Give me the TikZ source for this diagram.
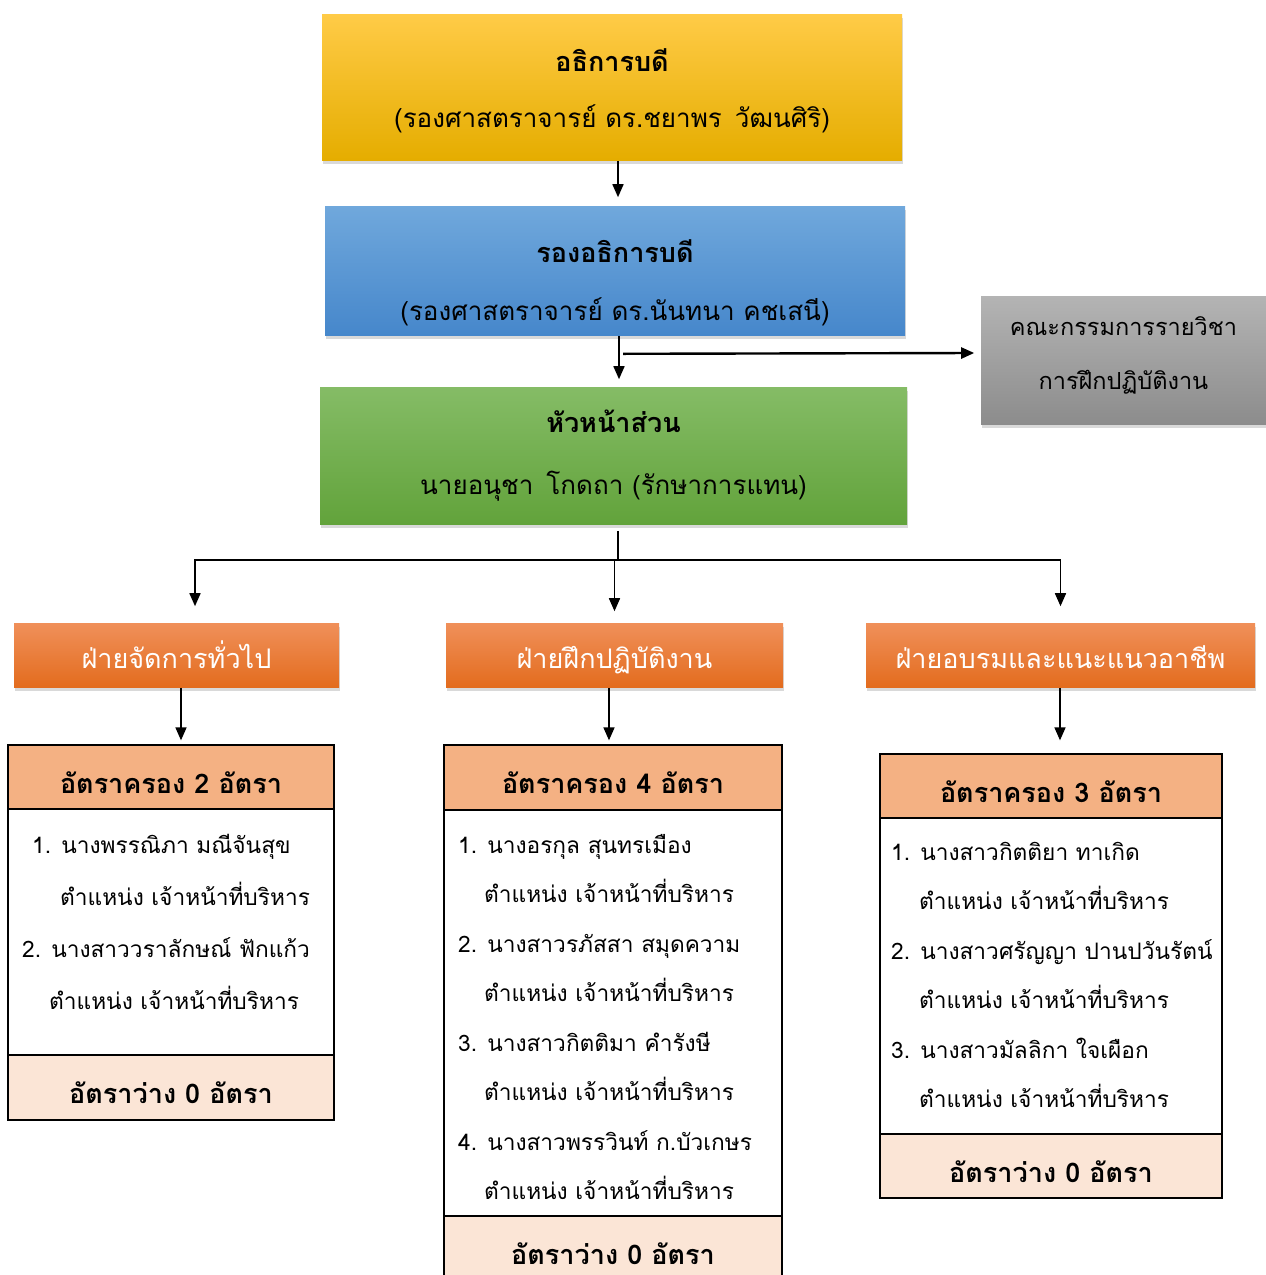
\documentclass[tikz,border=0pt]{standalone}
\usepackage{fontspec}
\newfontfamily\thaifont[Script=Thai]{Loma}
\usetikzlibrary{arrows.meta,shadows,positioning}

\definecolor{hdrfill}{HTML}{F4B183}
\definecolor{ftrfill}{HTML}{FBE5D6}
\definecolor{orgtop}{HTML}{F0905A}
\definecolor{orgmid}{HTML}{F47F2A}
\definecolor{orgbot}{HTML}{E36C1E}
\newcommand\lift[1]{\rule{0pt}{#1}}

\begin{document}
\begin{tikzpicture}[x=1pt, y=-1pt, line width=1.6pt,
  >={Triangle[length=13pt,width=11pt]},
  font=\thaifont\fontsize{26}{32}\selectfont,
  top/.style={align=center, inner sep=0pt,
    drop shadow={shadow xshift=1pt, shadow yshift=-4pt, opacity=0.3}},
  dept/.style={top, text=white, minimum height=64pt, text height=30pt, text depth=3pt,
    font=\thaifont\fontsize{27}{32}\selectfont,
    top color=orgtop, middle color=orgmid, bottom color=orgbot},
  cell/.style={draw, line width=1.3pt, inner sep=0pt, text height=32pt, text depth=0pt,
    font=\thaifont\bfseries\fontsize{27}{32}\selectfont},
  listtxt/.style={align=left, inner sep=0pt, font=\thaifont\fontsize{22.7}{#1}\selectfont}]

  \useasboundingbox (0,0) rectangle (1266,1275);

  \node[top, minimum width=580pt, minimum height=146pt,
        top color={rgb,255:red,255;green,203;blue,71}, middle color={rgb,255:red,255;green,192;blue,0},
        bottom color={rgb,255:red,229;green,173;blue,0}]  (Dir)  at (612,87)
        {\lift{30pt}\textbf{\fontsize{27}{32}\selectfont อธิการบดี}\\[24pt](รองศาสตราจารย์ ดร.ชยาพร\enspace วัฒนศิริ)};
  \node[top, minimum width=580pt, minimum height=129pt,
        top color={rgb,255:red,112;green,168;blue,220},
        bottom color={rgb,255:red,70;green,135;blue,203}]  (Vice) at (615,270.5)
        {\lift{48pt}\textbf{\fontsize{27}{32}\selectfont รองอธิการบดี}\\[26pt](รองศาสตราจารย์ ดร.นันทนา คชเสนี)};
  \node[top, minimum width=285pt, minimum height=128pt, font=\thaifont\fontsize{23.5}{32}\selectfont,
        top color={rgb,255:red,180;green,180;blue,180},
        bottom color={rgb,255:red,140;green,140;blue,140}] (Com)  at (1123.5,360)
        {คณะกรรมการรายวิชา\\[22pt]การฝึกปฏิบัติงาน\rule[-14pt]{0pt}{0pt}};
  \node[top, minimum width=587pt, minimum height=137pt,
        top color={rgb,255:red,133;green,188;blue,102},
        bottom color={rgb,255:red,98;green,163;blue,59}]   (Head) at (613.5,455.5)
        {\textbf{\fontsize{27}{32}\selectfont หัวหน้าส่วน}\\[30pt]นายอนุชา\enspace โกดถา (รักษาการแทน)};

  \node[dept, minimum width=325pt] (OL) at (176.5,655)  {ฝ่ายจัดการทั่วไป};
  \node[dept, minimum width=337pt] (OM) at (614.5,655)  {ฝ่ายฝึกปฏิบัติงาน};
  \node[dept, minimum width=389pt] (OR) at (1060.5,655) {ฝ่ายอบรมและแนะแนวอาชีพ};

  \node[cell, fill=hdrfill, minimum width=326pt, minimum height=64pt]  (LH) at (171,777)    {อัตราครอง 2 อัตรา};
  \node[cell, fill=white,   minimum width=326pt, minimum height=246pt] (LB) at (171,932)    {};
  \node[cell, fill=ftrfill, minimum width=326pt, minimum height=65pt]  (LF) at (171,1087.5) {อัตราว่าง 0 อัตรา};

  \node[cell, fill=hdrfill, minimum width=338pt, minimum height=65pt]  (MH) at (613,777.5)  {อัตราครอง 4 อัตรา};
  \node[cell, fill=white,   minimum width=338pt, minimum height=406pt] (MB) at (613,1013)   {};
  \node[cell, fill=ftrfill, minimum width=338pt, minimum height=64pt]  (MF) at (613,1248)   {อัตราว่าง 0 อัตรา};

  \node[cell, fill=hdrfill, minimum width=342pt, minimum height=64pt]  (RH) at (1051,786)   {อัตราครอง 3 อัตรา};
  \node[cell, fill=white,   minimum width=342pt, minimum height=316pt] (RB) at (1051,976)   {};
  \node[cell, fill=ftrfill, minimum width=342pt, minimum height=64pt]  (RF) at (1051,1166)  {อัตราว่าง 0 อัตรา};

  \node[listtxt=52, anchor=north west] (LT) at ([xshift=14pt,yshift=-25pt]LB.north west)
    {\hspace*{10pt}1. นางพรรณิภา มณีจันสุข\\
     \hspace*{38pt}ตำแหน่ง เจ้าหน้าที่บริหาร\\
     2. นางสาววราลักษณ์ ฟักแก้ว\\
     \hspace*{27pt}ตำแหน่ง เจ้าหน้าที่บริหาร};
  \node[listtxt=49.5, anchor=north west] (MT) at ([xshift=14pt,yshift=-24pt]MB.north west)
    {1. นางอรกุล สุนทรเมือง\\
     \hspace*{26pt}ตำแหน่ง เจ้าหน้าที่บริหาร\\
     2. นางสาวรภัสสา สมุดความ\\
     \hspace*{26pt}ตำแหน่ง เจ้าหน้าที่บริหาร\\
     3. นางสาวกิตติมา คำรังษี\\
     \hspace*{26pt}ตำแหน่ง เจ้าหน้าที่บริหาร\\
     4. นางสาวพรรวินท์ ก.บัวเกษร\\
     \hspace*{26pt}ตำแหน่ง เจ้าหน้าที่บริหาร};
  \node[listtxt=49.5, anchor=north west] (RT) at ([xshift=11pt,yshift=-24pt]RB.north west)
    {1. นางสาวกิตติยา ทาเกิด\\
     \hspace*{28pt}ตำแหน่ง เจ้าหน้าที่บริหาร\\
     2. นางสาวศรัญญา ปานปวันรัตน์\\
     \hspace*{28pt}ตำแหน่ง เจ้าหน้าที่บริหาร\\
     3. นางสาวมัลลิกา ใจเผือก\\
     \hspace*{28pt}ตำแหน่ง เจ้าหน้าที่บริหาร};

  \coordinate (J) at (618,560);

  \draw[->] ([xshift=6pt]Dir.south) -- ([xshift=3pt,yshift=8pt]Vice.north);
  \draw[->] ([xshift=4pt]Vice.south) -- ([xshift=5.5pt,yshift=7pt]Head.north);
  \draw[->, line width=2.4pt] ([xshift=8pt,yshift=-18pt]Vice.south) -- ([xshift=-6pt,yshift=7pt]Com.west);
  \draw ([xshift=4.5pt,yshift=-6pt]Head.south) -- (J);
  \draw[->] (J) -| ([xshift=18.5pt,yshift=16pt]OL.north);
  \draw[->] (J) -| ([yshift=16pt]OR.north);
  \draw[->] (J -| OM) -- ([yshift=11pt]OM.north);
  \draw[->] ([xshift=4.5pt]OL.south) -- ([xshift=10pt,yshift=4pt]LH.north);
  \draw[->] ([xshift=-5.5pt]OM.south) -- ([xshift=-4pt,yshift=4pt]MH.north);
  \draw[->] ([xshift=-0.5pt]OR.south) -- ([xshift=9pt,yshift=13pt]RH.north);
\end{tikzpicture}
\end{document}
